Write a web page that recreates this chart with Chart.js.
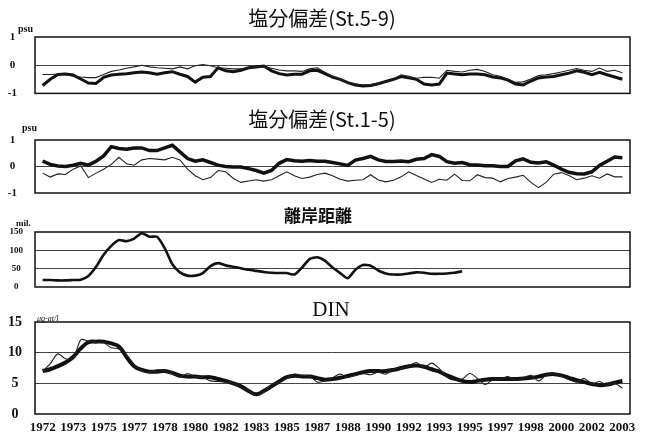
<!DOCTYPE html>
<html>
<head>
<meta charset="utf-8">
<script src="https://cdn.jsdelivr.net/npm/chart.js@4.4.1/dist/chart.umd.min.js"></script>
<style>
body { margin: 0; background: #fff; }
.panel { position: absolute; left: 0; width: 645px; }
</style>
</head>
<body>
<div class="panel" style="top:0;height:100px"><canvas id="g1"></canvas></div>
<div class="panel" style="top:100px;height:100px"><canvas id="g2"></canvas></div>
<div class="panel" style="top:200px;height:95px"><canvas id="g3"></canvas></div>
<div class="panel" style="top:295px;height:138px"><canvas id="g4"></canvas></div>
<script>
// month index from Jan 1972, every 5 months
const months = [
  0, 5, 10, 15, 20, 25, 30, 35, 40, 45, 50,
  55, 60, 65, 70, 75, 80, 85, 90, 95, 100, 105,
  110, 115, 120, 125, 130, 135, 140, 145, 150, 155, 160,
  165, 170, 175, 180, 185, 190, 195, 200, 205, 210, 215,
  220, 225, 230, 235, 240, 245, 250, 255, 260, 265, 270,
  275, 280, 285, 290, 295, 300, 305, 310, 315, 320, 325,
  330, 335, 340, 345, 350, 355, 360, 365, 370, 375, 380
];

// x axis labels (one every 20 months)
const labelMonths = [0, 20, 40, 60, 80, 100, 120, 140, 160, 180, 200, 220, 240, 260, 280, 300, 320, 340, 360, 380];
const yearLabels = ["1972", "1973", "1975", "1977", "1978", "1980", "1982", "1983", "1985", "1987",
                    "1988", "1990", "1992", "1993", "1995", "1997", "1998", "2000", "2002", "2003"];

// 塩分偏差(St.5-9)
const salt59Thick = [
  -0.72, -0.5, -0.33, -0.31, -0.35, -0.49, -0.63, -0.65, -0.43, -0.35, -0.32,
  -0.3, -0.27, -0.24, -0.27, -0.32, -0.27, -0.23, -0.32, -0.4, -0.6, -0.43,
  -0.4, -0.09, -0.2, -0.23, -0.18, -0.09, -0.06, -0.03, -0.2, -0.3, -0.35,
  -0.32, -0.32, -0.2, -0.18, -0.3, -0.42, -0.5, -0.62, -0.7, -0.74, -0.72,
  -0.66, -0.58, -0.5, -0.4, -0.45, -0.5, -0.67, -0.7, -0.67, -0.28, -0.31,
  -0.34, -0.31, -0.31, -0.34, -0.42, -0.45, -0.53, -0.67, -0.7, -0.56, -0.45,
  -0.42, -0.4, -0.34, -0.28, -0.2, -0.25, -0.34, -0.25, -0.34, -0.42, -0.5
];
const salt59Thin = [
  -0.33, -0.33, -0.31, -0.33, -0.39, -0.42, -0.44, -0.44, -0.33, -0.22, -0.17,
  -0.11, -0.06, 0, -0.06, -0.09, -0.11, -0.13, -0.06, -0.13, -0.02, 0.02,
  -0.02, -0.09, -0.11, -0.13, -0.13, -0.09, -0.06, -0.06, -0.11, -0.17, -0.2,
  -0.2, -0.22, -0.13, -0.09, -0.25, -0.39, -0.51, -0.61, -0.66, -0.7, -0.69,
  -0.63, -0.59, -0.49, -0.34, -0.39, -0.46, -0.43, -0.43, -0.46, -0.18, -0.22,
  -0.24, -0.18, -0.15, -0.22, -0.34, -0.39, -0.49, -0.61, -0.59, -0.49, -0.37,
  -0.34, -0.3, -0.24, -0.18, -0.12, -0.18, -0.22, -0.1, -0.22, -0.18, -0.27
];

// 塩分偏差(St.1-5)
const salt15Thick = [
  0.2, 0.08, 0.02, 0.0, 0.05, 0.12, 0.05, 0.2, 0.4, 0.75, 0.68,
  0.65, 0.7, 0.7, 0.6, 0.6, 0.7, 0.8, 0.55, 0.3, 0.2, 0.25,
  0.15, 0.05, 0.0, -0.02, -0.02, -0.08, -0.15, -0.25, -0.15, 0.12, 0.26,
  0.22, 0.2, 0.23, 0.2, 0.2, 0.15, 0.1, 0.04, 0.24, 0.3, 0.38,
  0.25, 0.19, 0.19, 0.21, 0.18, 0.27, 0.3, 0.45, 0.38, 0.18, 0.12,
  0.15, 0.07, 0.06, 0.03, 0.03, 0.0, 0.0, 0.21, 0.29, 0.16, 0.13,
  0.18, 0.05, -0.1, -0.22, -0.27, -0.28, -0.2, 0.04, 0.2, 0.36, 0.33
];
const salt15Thin = [
  -0.25, -0.4, -0.28, -0.3, -0.1, 0.02, -0.42, -0.25, -0.1, 0.08, 0.35,
  0.1, 0.05, 0.25, 0.3, 0.28, 0.25, 0.35, 0.25, -0.1, -0.35, -0.5,
  -0.42, -0.15, -0.2, -0.45, -0.6, -0.55, -0.5, -0.55, -0.5, -0.35, -0.2,
  -0.35, -0.45, -0.4, -0.3, -0.25, -0.35, -0.48, -0.55, -0.52, -0.5, -0.31,
  -0.51, -0.58, -0.52, -0.39, -0.2, -0.34, -0.47, -0.6, -0.48, -0.52, -0.29,
  -0.53, -0.54, -0.31, -0.42, -0.44, -0.58, -0.45, -0.4, -0.33, -0.6, -0.8,
  -0.6, -0.29, -0.23, -0.34, -0.5, -0.44, -0.35, -0.44, -0.28, -0.39, -0.39
];

// 離岸距離 (ends early)
const distance = [
  19, 19, 18, 18, 19, 20, 30, 55, 88, 112, 128,
  125, 132, 147, 137, 137, 106, 62, 40, 31, 31, 38,
  57, 65, 59, 55, 51, 47, 44, 41, 39, 38, 38,
  34, 53, 76, 81, 72, 53, 38, 24, 47, 60, 58,
  45, 37, 34, 34, 37, 40, 39, 36, 36, 37, 39,
  43
];

// DIN
const dinSmooth = [
  7.0, 7.3, 7.8, 8.4, 9.3, 10.7, 11.7, 11.8, 11.8, 11.5, 11.0,
  9.3, 7.8, 7.2, 6.9, 6.9, 7.0, 6.7, 6.25, 6.1, 6.1, 6.0,
  6.0, 5.7, 5.4, 5.0, 4.5, 3.75, 3.2, 3.75, 4.5, 5.3, 6.0,
  6.25, 6.1, 6.1, 5.85, 5.6, 5.7, 5.9, 6.2, 6.5, 6.8, 7.0,
  7.0, 7.0, 7.2, 7.5, 7.8, 7.9, 7.7, 7.3, 6.9, 6.3, 5.8,
  5.4, 5.2, 5.4, 5.6, 5.7, 5.7, 5.7, 5.7, 5.8, 5.9, 6.1,
  6.4, 6.5, 6.3, 5.9, 5.5, 5.2, 4.9, 4.7, 4.8, 5.1, 5.4
];
const dinRaw = [
  7.0, 8.2, 9.8, 9.0, 9.0, 12.1, 11.9, 11.7, 11.6, 10.8, 10.6,
  9.6, 8.0, 7.0, 6.8, 7.2, 7.0, 6.5, 6.0, 6.6, 6.1, 6.0,
  5.4, 5.3, 5.2, 5.0, 4.4, 3.8, 3.0, 3.6, 4.8, 5.1, 5.8,
  6.5, 6.3, 6.2, 5.2, 5.4, 5.9, 6.5, 6.0, 6.3, 6.6, 6.4,
  6.8, 6.5, 7.3, 7.4, 7.8, 8.4, 7.6, 8.3, 7.4, 6.0, 5.5,
  5.7, 6.6, 5.8, 4.8, 5.6, 5.7, 6.1, 5.5, 5.9, 6.3, 5.4,
  6.3, 6.6, 6.2, 5.6, 5.2, 5.8, 4.9, 5.3, 4.7, 5.0, 4.2
];

function toPoints(values) {
  return values.map((v, i) => ({ x: months[i], y: v }));
}

// box around plot area, panel title and unit text
const framePlugin = {
  id: "frame",
  afterDraw(chart, args, opts) {
    const ctx = chart.ctx;
    const a = chart.chartArea;
    ctx.save();
    ctx.strokeStyle = "#111";
    ctx.lineWidth = 1.5;
    ctx.strokeRect(a.left, a.top, a.right - a.left, a.bottom - a.top);
    ctx.fillStyle = "#111";
    ctx.textAlign = "center";
    ctx.textBaseline = "middle";
    ctx.font = opts.titleFont;
    ctx.fillText(opts.title, opts.titleX, opts.titleY);
    ctx.textAlign = "left";
    ctx.textBaseline = "alphabetic";
    ctx.font = opts.unitFont;
    ctx.fillText(opts.unit, opts.unitX, opts.unitY);
    ctx.restore();
  }
};

function makePanel(id, p) {
  let ctx = document.getElementById(id).getContext("2d");
  return new Chart(ctx, {
    type: "line",
    data: { datasets: p.datasets },
    plugins: [framePlugin],
    options: {
      responsive: true,
      maintainAspectRatio: false,
      animation: false,
      layout: { padding: { top: p.padTop, bottom: 0, left: 0, right: 15 } },
      elements: { point: { radius: 0 } },
      plugins: {
        legend: { display: false },
        tooltip: { enabled: false },
        frame: p.frame
      },
      scales: {
        x: {
          type: "linear",
          min: -5,
          max: 385,
          grid: { display: false, drawTicks: false },
          border: { display: false },
          afterBuildTicks: (s) => { s.ticks = labelMonths.map((v) => ({ value: v })); },
          afterFit: (s) => { s.height = p.xHeight; },
          ticks: {
            display: p.showX,
            autoSkip: false,
            maxRotation: 0,
            padding: 6,
            color: "#111",
            font: { family: "Liberation Serif", size: 13, weight: "bold" },
            callback: (v, i) => yearLabels[i]
          }
        },
        y: {
          min: p.yMin,
          max: p.yMax,
          afterBuildTicks: (s) => { s.ticks = p.yTicks.map((v) => ({ value: v })); },
          afterFit: (s) => { s.width = 35; },
          border: { display: false },
          grid: {
            drawTicks: true,
            tickLength: p.tickGap,
            tickColor: "rgba(0,0,0,0)",
            lineWidth: 1,
            color: (c) => (c.tick && c.tick.value > p.yMin && c.tick.value < p.yMax) ? "#444" : "rgba(0,0,0,0)"
          },
          ticks: {
            autoSkip: false,
            crossAlign: "center",
            padding: 0,
            color: "#111",
            font: { family: "Liberation Serif", size: p.tickSize, weight: "bold" }
          }
        }
      }
    }
  });
}

function thick(values, w) {
  return { data: toPoints(values), borderColor: "#111", borderWidth: w, tension: 0 };
}
function thin(values) {
  return { data: toPoints(values), borderColor: "#222", borderWidth: 1.1, tension: 0 };
}

makePanel("g1", {
  datasets: [thin(salt59Thin), thick(salt59Thick, 3)],
  padTop: 37, xHeight: 6, showX: false,
  yMin: -1, yMax: 1, yTicks: [-1, 0, 1], tickGap: 18, tickSize: 11,
  frame: { title: "塩分偏差(St.5-9)", titleX: 322, titleY: 18, titleFont: "20px 'Noto Sans CJK JP'",
           unit: "psu", unitX: 18, unitY: 32, unitFont: "bold 10px 'Liberation Serif'" }
});

makePanel("g2", {
  datasets: [thin(salt15Thin), thick(salt15Thick, 3.5)],
  padTop: 40, xHeight: 7, showX: false,
  yMin: -1, yMax: 1, yTicks: [-1, 0, 1], tickGap: 18, tickSize: 11,
  frame: { title: "塩分偏差(St.1-5)", titleX: 322, titleY: 19, titleFont: "20px 'Noto Sans CJK JP'",
           unit: "psu", unitX: 22, unitY: 31, unitFont: "bold 10px 'Liberation Serif'" }
});

makePanel("g3", {
  datasets: [{ data: toPoints(distance), borderColor: "#111", borderWidth: 2.6, tension: 0.2 }],
  padTop: 32, xHeight: 8, showX: false,
  yMin: 0, yMax: 150, yTicks: [0, 50, 100, 150], tickGap: 12, tickSize: 9,
  frame: { title: "離岸距離", titleX: 318, titleY: 16, titleFont: "bold 17px 'Noto Sans CJK JP'",
           unit: "mil.", unitX: 16, unitY: 26, unitFont: "bold 9px 'Liberation Serif'" }
});

makePanel("g4", {
  datasets: [
    { data: toPoints(dinRaw), borderColor: "#222", borderWidth: 1.1, tension: 0.3 },
    { data: toPoints(dinSmooth), borderColor: "#111", borderWidth: 4, tension: 0.4 }
  ],
  padTop: 27, xHeight: 19, showX: true,
  yMin: 0, yMax: 15, yTicks: [0, 5, 10, 15], tickGap: 13, tickSize: 14,
  frame: { title: "DIN", titleX: 331, titleY: 15, titleFont: "21px 'Liberation Serif'",
           unit: "μg-at/l", unitX: 37, unitY: 26, unitFont: "italic 8px 'Liberation Serif'" }
});
</script>
</body>
</html>
